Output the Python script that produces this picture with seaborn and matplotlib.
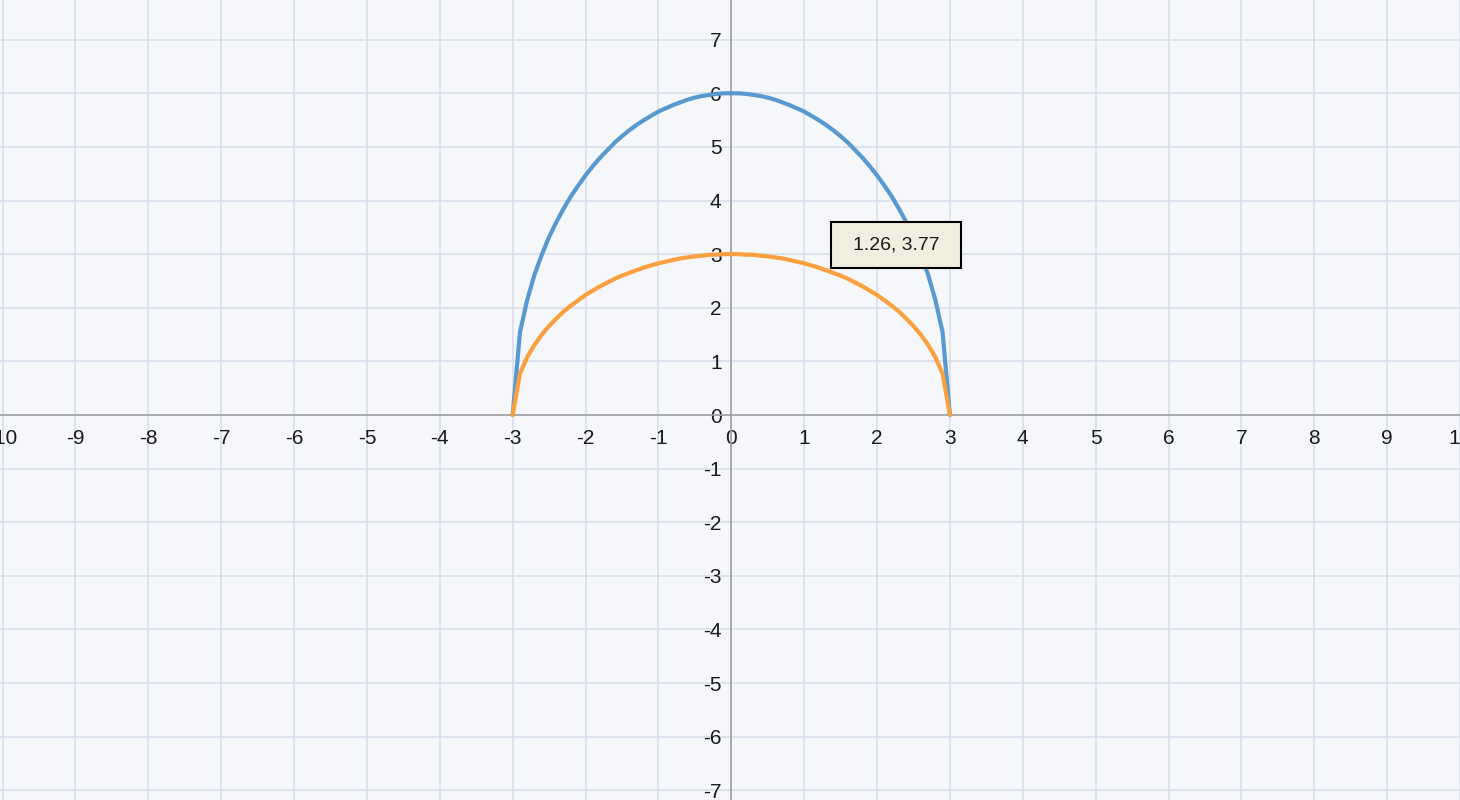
import numpy as np
import pandas as pd
import matplotlib
matplotlib.use("Agg")
import matplotlib.pyplot as plt
from matplotlib.patches import Rectangle
import seaborn as sns

# ---------------------------------------------------------------
# DATA (sampled every 0.1 from -3 to 3, read off the chart)
# ---------------------------------------------------------------
x_vals = [-3.0, -2.9, -2.8, -2.7, -2.6, -2.5, -2.4, -2.3, -2.2, -2.1,
          -2.0, -1.9, -1.8, -1.7, -1.6, -1.5, -1.4, -1.3, -1.2, -1.1,
          -1.0, -0.9, -0.8, -0.7, -0.6, -0.5, -0.4, -0.3, -0.2, -0.1,
          0.0, 0.1, 0.2, 0.3, 0.4, 0.5, 0.6, 0.7, 0.8, 0.9,
          1.0, 1.1, 1.2, 1.3, 1.4, 1.5, 1.6, 1.7, 1.8, 1.9,
          2.0, 2.1, 2.2, 2.3, 2.4, 2.5, 2.6, 2.7, 2.8, 2.9, 3.0]

blue_vals = [0.00, 1.54, 2.15, 2.62, 2.99, 3.32, 3.60, 3.85, 4.08, 4.28,
             4.47, 4.64, 4.80, 4.94, 5.08, 5.20, 5.31, 5.41, 5.50, 5.58,
             5.66, 5.72, 5.78, 5.83, 5.88, 5.92, 5.95, 5.97, 5.99, 6.00,
             6.00, 6.00, 5.99, 5.97, 5.95, 5.92, 5.88, 5.83, 5.78, 5.72,
             5.66, 5.58, 5.50, 5.41, 5.31, 5.20, 5.08, 4.94, 4.80, 4.64,
             4.47, 4.28, 4.08, 3.85, 3.60, 3.32, 2.99, 2.62, 2.15, 1.54, 0.00]

orange_vals = [0.00, 0.77, 1.08, 1.31, 1.50, 1.66, 1.80, 1.93, 2.04, 2.14,
               2.24, 2.32, 2.40, 2.47, 2.54, 2.60, 2.65, 2.70, 2.75, 2.79,
               2.83, 2.86, 2.89, 2.92, 2.94, 2.96, 2.97, 2.99, 2.99, 3.00,
               3.00, 3.00, 2.99, 2.99, 2.97, 2.96, 2.94, 2.92, 2.89, 2.86,
               2.83, 2.79, 2.75, 2.70, 2.65, 2.60, 2.54, 2.47, 2.40, 2.32,
               2.24, 2.14, 2.04, 1.93, 1.80, 1.66, 1.50, 1.31, 1.08, 0.77, 0.00]

x_ticks = list(range(-10, 11))
y_ticks = list(range(-7, 8))
tooltip_text = "1.26, 3.77"

BLUE = "#5899cf"
ORANGE = "#fba03f"
GRID = "#d6dce9"
AXIS = "#a0a0a0"

# ---------------------------------------------------------------
# PLOT
# ---------------------------------------------------------------
sns.set_style("white", {"axes.facecolor": "#f5f7fa"})
plt.rcParams["font.family"] = ["Liberation Sans", "DejaVu Sans"]
plt.rcParams["axes.unicode_minus"] = False

df = pd.concat([
    pd.DataFrame({"x": x_vals, "y": blue_vals, "series": "blue"}),
    pd.DataFrame({"x": x_vals, "y": orange_vals, "series": "orange"}),
])

fig = plt.figure(figsize=(14.6, 8), dpi=100)
fig.patch.set_facecolor("#f5f7fa")
ax = fig.add_axes([0, 0, 1, 1])

sns.lineplot(data=df, x="x", y="y", hue="series", sort=False,
             palette={"blue": BLUE, "orange": ORANGE},
             linewidth=3.0, legend=False, ax=ax, zorder=3)

ax.set_xlim(-10.035, 9.965)
ax.set_ylim(-7.18, 7.74)
ax.set_xticks(x_ticks)
ax.set_yticks(y_ticks)
ax.grid(True, color=GRID, linewidth=1.1)
ax.set_axisbelow(True)

for side in ["top", "right"]:
    ax.spines[side].set_visible(False)
for side in ["left", "bottom"]:
    ax.spines[side].set_position(("data", 0))
    ax.spines[side].set_color(AXIS)
    ax.spines[side].set_linewidth(1.2)
    ax.spines[side].set_zorder(2)

ax.tick_params(axis="x", direction="out", length=5, width=1.2,
               color=AXIS, labelsize=15, labelcolor="#1a1a1a", pad=5)
ax.tick_params(axis="y", direction="out", length=5, width=1.2,
               color=AXIS, labelsize=15, labelcolor="#1a1a1a", pad=2)
ax.set_xlabel("")
ax.set_ylabel("")

# tooltip box
ax.add_patch(Rectangle((1.37, 2.74), 1.78, 0.86, facecolor="#efeedf",
                       edgecolor="black", linewidth=1.5, zorder=5))
ax.text(2.26, 3.17, tooltip_text, ha="center", va="center",
        fontsize=14, color="#1a1a1a", zorder=6)

fig.savefig("out.png", dpi=100, facecolor=fig.get_facecolor())
